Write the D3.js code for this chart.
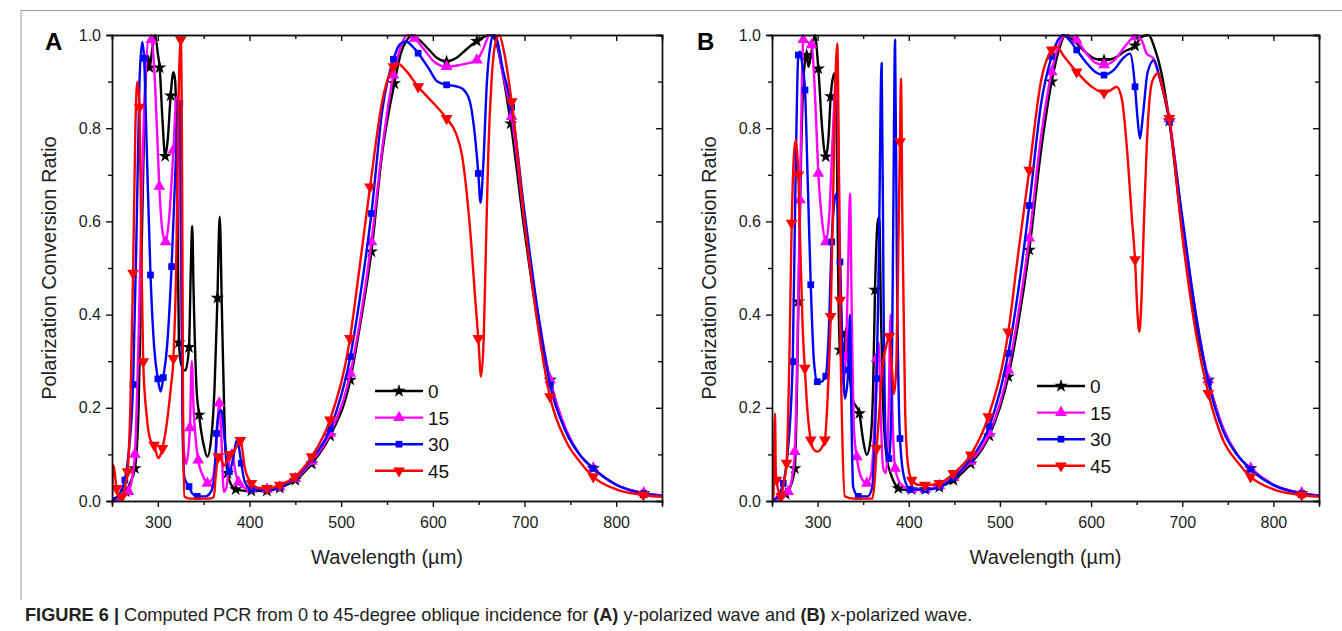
<!DOCTYPE html>
<html>
<head>
<meta charset="utf-8">
<script src="https://cdn.jsdelivr.net/npm/d3@7"></script>
<style>
  body { margin: 0; background: #fff; }
  svg { display: block; font-family: "Liberation Sans", Arial, sans-serif; }
  .tick text { font-size: 16px; fill: #222; }
  .domain, .tick line { stroke: #111; stroke-width: 1.4px; }
</style>
</head>
<body>
<div id="chart"></div>
<script>
// tick values and legend labels
var wavelengthTicks = [300, 400, 500, 600, 700, 800];
var wavelengthMinor = [250, 350, 450, 550, 650, 750, 850];
var ratioTicks = [0, 0.2, 0.4, 0.6, 0.8, 1.0];
var ratioMinor = [0.1, 0.3, 0.5, 0.7, 0.9];
var angleLabels = ["0", "15", "30", "45"];

// panel A (y-polarized) : [wavelength, PCR, marker?]
var a0 = [[250,0.005],[258,0.01],[265,0.02,1],[270,0.04],[275,0.07,1],[279,0.2],[282,0.5],[285,0.8],[287.5,0.93],[289.5,0.955],[291,0.93,1],[294,0.97],[297,1.0],[300,0.96],[302,0.93,1],[305,0.82],[308,0.74,1],[311,0.78],[314,0.87,1],[317,0.92],[319,0.9],[321,0.7],[323,0.34,1],[326,0.29],[330,0.28],[334,0.33,1],[336,0.5],[337.5,0.59],[339,0.45],[342,0.25],[345,0.185,1],[350,0.12],[354,0.095],[358,0.13],[362,0.25],[365,0.436,1],[367.5,0.61],[370,0.4],[373,0.15],[376,0.06,1],[380,0.035],[385,0.025,1],[395,0.022],[402,0.022,1],[419,0.022,1],[433,0.028,1],[450,0.045,1],[468,0.08,1],[488,0.14,1],[510,0.26,1],[520,0.37],[533,0.535,1],[545,0.75],[558,0.896,1],[565,0.96],[572,0.99],[578,1.0],[585,0.99],[595,0.97],[605,0.95],[615,0.943,1],[625,0.95],[637,0.97],[648,0.987,1],[655,0.995],[662,1.0],[668,0.99],[675,0.93],[685,0.81,1],[700,0.58],[715,0.38],[728,0.26,1],[745,0.15],[760,0.1],[775,0.07,1],[800,0.035],[830,0.017,1],[850,0.012]];
var a15 = [[250,0],[260,0.005],[268,0.02,1],[272,0.05],[275,0.1,1],[279,0.35],[283,0.7],[287,0.93],[290,0.99],[293,0.99,1],[296,0.93],[299,0.8],[301.6,0.675,1],[305,0.58],[308.5,0.556,1],[312,0.6],[317,0.753,1],[320,0.86],[322,0.87],[324,0.7],[326,0.4],[328,0.12],[331,0.08],[335,0.157,1],[337,0.3],[339,0.2],[344,0.088,1],[349,0.055],[354,0.038,1],[360,0.05],[364,0.12],[367,0.21,1],[369,0.15],[372,0.02],[375,0.03],[378,0.09],[381,0.11],[384,0.07],[388,0.04,1],[395,0.028],[402,0.025,1],[419,0.025,1],[433,0.03,1],[450,0.048,1],[468,0.085,1],[488,0.145,1],[510,0.274,1],[520,0.38],[533,0.556,1],[545,0.76],[557,0.914,1],[565,0.975],[572,1.0],[580,0.993,1],[590,0.97],[603,0.94],[615,0.932,1],[628,0.935],[640,0.94],[648,0.946,1],[655,0.97],[662,1.0],[668,1.0],[675,0.93],[686,0.825,1],[700,0.6],[715,0.4],[728,0.26,1],[745,0.155],[760,0.1],[775,0.07,1],[800,0.035],[830,0.017,1],[850,0.012]];
var a30 = [[250,0],[258,0.015],[264,0.045,1],[268,0.1],[273,0.25,1],[277,0.6],[280,0.9],[283,0.985],[285,0.95,1],[288,0.75],[292,0.485,1],[296,0.33],[300,0.262,1],[303,0.235],[306,0.265,1],[310,0.33],[315,0.503,1],[319,0.7],[322,0.84],[324,0.853,1],[325.5,0.6],[327,0.15],[329,0.05],[334,0.031,1],[338,0.015],[343,0.01,1],[352,0.01],[358,0.02],[362,0.06],[364,0.145,1],[367,0.19],[369.6,0.195],[372,0.15],[375,0.09],[378,0.063,1],[382,0.09],[386,0.13],[388,0.12],[391,0.081,1],[395,0.04],[402,0.025,1],[419,0.024,1],[433,0.03,1],[450,0.05,1],[468,0.09,1],[488,0.155,1],[510,0.31,1],[520,0.43],[533,0.617,1],[545,0.84],[557,0.948,1],[564,0.98],[570.7,0.986],[578,0.975],[584,0.961,1],[595,0.93],[605,0.9],[615,0.893,1],[625,0.89],[632,0.885],[640,0.86],[645,0.8],[649.6,0.703,1],[652,0.64],[655,0.72],[659,0.9],[663,0.98],[666,1.0],[670,0.99],[676,0.93],[686,0.845,1],[700,0.62],[715,0.4],[728,0.249,1],[745,0.15],[760,0.1],[775,0.07,1],[800,0.035],[830,0.016,1],[850,0.011]];
var a45 = [[250,0],[251.5,0.077],[253,0.06],[255,0.027,1],[258,0.005],[261,0.01,1],[264,0.03],[267,0.063,1],[270,0.2],[273,0.489,1],[275.5,0.8],[277.6,0.9],[280,0.845,1],[282,0.55],[284,0.299,1],[288,0.18],[292,0.13],[296,0.12,1],[300.5,0.092],[305,0.113,1],[310,0.17],[314,0.24],[317,0.306,1],[320,0.5],[322.5,0.85],[325,0.99,1],[326.5,0.7],[327.5,0.2],[329,0.01],[335,0.005],[345,0.005],[355,0.005],[361,0.008],[363,0.05],[366,0.095,1],[369,0.09],[372,0.075],[375,0.085],[378.7,0.1,1],[384,0.11],[390,0.13,1],[395,0.07],[402,0.038,1],[410,0.028],[419,0.027,1],[433,0.034,1],[449.6,0.052,1],[467.8,0.095,1],[487.8,0.174,1],[509.6,0.349,1],[520,0.5],[531.5,0.674,1],[545,0.86],[557,0.932,1],[562,0.939],[570,0.925],[584,0.889,1],[600,0.855],[615,0.821,1],[625,0.79],[632,0.74],[637,0.66],[642,0.55],[646,0.44],[649.6,0.349,1],[652.6,0.267],[655.5,0.35],[658,0.55],[660.5,0.746],[664,0.9],[668,0.98],[672.5,1.0],[677,0.97],[686,0.857,1],[700,0.6],[715,0.37],[727.8,0.224,1],[745,0.13],[760,0.085],[775,0.052,1],[800,0.025],[829.6,0.013,1],[850,0.009]];

// panel B (x-polarized)
var b0 = [[250,0],[258,0.005],[265,0.015,1],[270,0.03],[275,0.07,1],[277,0.2],[279,0.428,1],[282,0.75],[285,0.92],[288,0.957,1],[290,0.932],[293,0.96],[297,1.0],[300.8,0.928,1],[305,0.8],[309,0.739,1],[312,0.78],[314.4,0.868,1],[317,0.91],[319,0.918],[321,0.8],[322.5,0.5],[324.6,0.324,1],[328,0.3],[331,0.36,1],[334,0.3],[338,0.22],[345.8,0.188,1],[350,0.13],[353.9,0.099],[358,0.13],[361,0.25],[363,0.453,1],[366,0.6],[367.7,0.61],[369.5,0.4],[372,0.2],[376,0.09],[380,0.06],[384,0.04],[388.5,0.027,1],[395,0.024],[403,0.025,1],[418,0.025,1],[433.5,0.03,1],[449,0.045,1],[468,0.08,1],[488.4,0.14,1],[509.2,0.267,1],[520,0.38],[532.2,0.539,1],[545,0.75],[556.8,0.9,1],[565,0.97],[572,1.0],[580,0.99],[590,0.97],[603,0.95],[614.2,0.946,1],[625,0.95],[637,0.965],[648.2,0.977,1],[655,0.995],[663,1.0],[670,0.97],[677,0.92],[685.8,0.816,1],[700,0.58],[715,0.38],[728.6,0.26,1],[745,0.155],[760,0.1],[775,0.07,1],[800,0.035],[831,0.017,1],[850,0.012]];
var b15 = [[250,0],[260,0.005],[267.7,0.02,1],[272,0.05],[275,0.106,1],[278,0.35],[280.7,0.646,1],[283,0.92],[284.3,0.99,1],[289,0.985],[293.5,0.979,1],[297,0.88],[300.8,0.703,1],[305,0.6],[309,0.556,1],[313,0.62],[317,0.8],[320,0.9],[322,0.85],[324,0.6],[326,0.35],[328,0.25],[331,0.31,1],[333.5,0.5],[335.6,0.66],[337.5,0.4],[340,0.15],[343,0.095,1],[348,0.05],[354,0.038,1],[359,0.06],[362,0.15],[364.8,0.306,1],[367,0.34],[369,0.2],[372,0.07],[375,0.06],[378,0.2],[380,0.4],[382,0.2],[385,0.07,1],[392,0.035],[403,0.025,1],[418,0.025,1],[433.5,0.033,1],[449,0.05,1],[468,0.085,1],[488.4,0.145,1],[509.2,0.281,1],[520,0.4],[532.2,0.564,1],[545,0.78],[556.8,0.921,1],[565,0.98],[572,1.0],[584.2,0.989,1],[595,0.96],[605,0.94],[614.2,0.936,1],[625,0.945],[637,0.975],[648.2,0.996,1],[655,0.99],[661,0.96],[668,0.95],[675,0.91],[685.8,0.82,1],[700,0.6],[715,0.4],[728.6,0.26,1],[745,0.155],[760,0.1],[775,0.07,1],[800,0.035],[831,0.017,1],[850,0.012]];
var b30 = [[250,0],[256,0.01],[262.4,0.038,1],[267,0.1],[272.7,0.299,1],[275.5,0.65],[278.9,0.957,1],[280.7,0.964],[283,0.94],[286.2,0.882,1],[289,0.7],[292.5,0.464,1],[296,0.3],[299.7,0.256,1],[303,0.255],[309,0.268,1],[312,0.35],[315.5,0.556,1],[319,0.65],[321,0.66],[324.6,0.513,1],[327,0.35],[330,0.22],[333.7,0.281,1],[335.5,0.4],[337,0.2],[339,0.03],[344.7,0.01,1],[355,0.01],[360,0.03],[362,0.1],[364.8,0.263,1],[367,0.5],[370.3,0.94],[372.5,0.4],[375,0.12],[378.3,0.091,1],[381,0.2],[383,0.6],[385,0.99],[387,0.5],[390.4,0.134,1],[395,0.05],[401.6,0.025,1],[418,0.024,1],[433.5,0.03,1],[449,0.05,1],[468,0.09,1],[488.4,0.16,1],[509.2,0.317,1],[520,0.45],[532.2,0.634,1],[545,0.85],[556.8,0.954,1],[564,0.99],[569.5,1.0],[576,0.99],[584.2,0.968,1],[595,0.94],[605,0.92],[614.2,0.914,1],[625,0.925],[635,0.95],[642.7,0.96],[648.2,0.889,1],[651,0.82],[653.6,0.778],[657,0.83],[662,0.92],[669,0.946],[675,0.91],[685.8,0.814,1],[700,0.61],[715,0.4],[728.6,0.255,1],[745,0.15],[760,0.1],[775,0.068,1],[800,0.034],[831,0.016,1],[850,0.011]];
var b45 = [[250,0],[251.5,0.01],[253.3,0.188],[254.2,0.06],[255,0.045,1],[258,0.015],[260,0.01,1],[263,0.04],[266,0.081,1],[269,0.3],[271.6,0.596,1],[274,0.74],[276,0.775],[278.9,0.7,1],[281,0.55],[283.5,0.38],[286,0.285,1],[289,0.19],[292.5,0.131,1],[296,0.11],[299.7,0.106],[304,0.113],[308,0.131,1],[311,0.22],[314.4,0.396,1],[318,0.75],[320,0.93],[321.6,0.982],[323,0.8],[324.6,0.431,1],[327,0.15],[330,0.01],[340,0.005],[350,0.005],[360,0.005],[362.5,0.04],[364.8,0.113,1],[368,0.2],[372,0.3],[375,0.33],[378.7,0.353,1],[381,0.3],[384,0.23],[386.5,0.3],[389,0.6],[390.4,0.771,1],[391.5,0.907],[393,0.6],[396,0.2],[399,0.08],[403.2,0.045,1],[410,0.035],[417.8,0.034,1],[433.5,0.038,1],[448.9,0.059,1],[468,0.099,1],[487.3,0.181,1],[509.2,0.363,1],[520,0.53],[532.2,0.71,1],[545,0.9],[556.8,0.968,1],[562.3,0.975],[570,0.955],[584.2,0.921,1],[600,0.89],[614.2,0.876,1],[622,0.882],[628,0.889],[634,0.86],[640,0.74],[645,0.6],[648.2,0.518,1],[651,0.4],[652.9,0.363],[655,0.42],[658,0.6],[662,0.8],[667,0.9],[673.7,0.918],[679,0.88],[685.8,0.821,1],[700,0.57],[715,0.36],[728.6,0.231,1],[745,0.13],[760,0.085],[775,0.052,1],[800,0.025],[831,0.013,1],[850,0.009]];

function init() {

    var w = 1342;
    var h = 631;

    var colors = ["#000000", "#ff00ff", "#0000ff", "#ff0000"];
    var shapes = [d3.symbolStar, d3.symbolTriangle, d3.symbolSquare, d3.symbolTriangle];
    var sizes = [55, 60, 45, 60];
    var rotations = [0, 0, 0, 180];

    var svg = d3.select("#chart")
        .append("svg")
        .attr("width", w)
        .attr("height", h);

    //thin frame round the figure
    svg.append("path")
        .attr("d", "M21,600 V10.5 H1342")
        .attr("fill", "none")
        .attr("stroke", "#999")
        .attr("stroke-width", 1);

    var panels = [
        { id: "A", left: 112, right: 662, letterX: 45, series: [a0, a15, a30, a45], legendX: 375, legendY: 391 },
        { id: "B", left: 772, right: 1319, letterX: 697, series: [b0, b15, b30, b45], legendX: 1037, legendY: 386 }
    ];
    var top = 35, bottom = 501;

    panels.forEach(function (p) {

        var xScale = d3.scaleLinear().domain([250, 850]).range([p.left, p.right]);
        var yScale = d3.scaleLinear().domain([0, 1]).range([bottom, top]);

        var g = svg.append("g");

        //clip so curves stay in the plot box
        g.append("clipPath")
            .attr("id", "clip" + p.id)
            .append("rect")
            .attr("x", p.left).attr("y", top - 1)
            .attr("width", p.right - p.left).attr("height", bottom - top + 1);

        var line = d3.line()
            .x(function (d) { return xScale(d[0]); })
            .y(function (d) { return yScale(d[1]); })
            .curve(d3.curveMonotoneX);

        var plot = g.append("g").attr("clip-path", "url(#clip" + p.id + ")");

        p.series.forEach(function (data, i) {
            plot.append("path")
                .datum(data)
                .attr("fill", "none")
                .attr("stroke", colors[i])
                .attr("stroke-width", 2.4)
                .attr("stroke-linejoin", "round")
                .attr("d", line);

            plot.selectAll(".m" + i)
                .data(data.filter(function (d) { return d[2]; }))
                .enter()
                .append("path")
                .attr("class", "m" + i)
                .attr("d", d3.symbol().type(shapes[i]).size(sizes[i]))
                .attr("fill", colors[i])
                .attr("transform", function (d) {
                    return "translate(" + xScale(d[0]) + "," + yScale(d[1]) + ") rotate(" + rotations[i] + ")";
                });
        });

        //bottom axis with labels, ticks outward
        g.append("g")
            .attr("transform", "translate(0," + bottom + ")")
            .call(d3.axisBottom(xScale).tickValues(wavelengthTicks).tickSize(6).tickPadding(10).tickFormat(d3.format("d")));
        g.append("g")
            .attr("transform", "translate(0," + bottom + ")")
            .call(d3.axisBottom(xScale).tickValues(wavelengthMinor).tickSize(4).tickFormat(""));

        //top axis, ticks inward
        g.append("g")
            .attr("transform", "translate(0," + top + ")")
            .call(d3.axisBottom(xScale).tickValues(wavelengthTicks).tickSizeOuter(0).tickSize(6).tickFormat(""));
        g.append("g")
            .attr("transform", "translate(0," + top + ")")
            .call(d3.axisBottom(xScale).tickValues(wavelengthMinor).tickSizeOuter(0).tickSize(4).tickFormat(""));

        //left axis
        g.append("g")
            .attr("transform", "translate(" + p.left + ",0)")
            .call(d3.axisLeft(yScale).tickValues(ratioTicks).tickSize(6).tickPadding(5).tickFormat(d3.format(".1f")));
        g.append("g")
            .attr("transform", "translate(" + p.left + ",0)")
            .call(d3.axisLeft(yScale).tickValues(ratioMinor).tickSize(4).tickFormat(""));

        //right axis, ticks inward
        g.append("g")
            .attr("transform", "translate(" + p.right + ",0)")
            .call(d3.axisLeft(yScale).tickValues(ratioTicks).tickSizeOuter(0).tickSize(6).tickFormat(""));
        g.append("g")
            .attr("transform", "translate(" + p.right + ",0)")
            .call(d3.axisLeft(yScale).tickValues(ratioMinor).tickSizeOuter(0).tickSize(4).tickFormat(""));

        //axis titles
        g.append("text")
            .attr("x", (p.left + p.right) / 2)
            .attr("y", 564)
            .attr("text-anchor", "middle")
            .attr("font-size", 20)
            .attr("fill", "#222")
            .text("Wavelength (\u00b5m)");

        g.append("text")
            .attr("transform", "translate(" + (p.left - 56) + "," + ((top + bottom) / 2) + ") rotate(-90)")
            .attr("text-anchor", "middle")
            .attr("font-size", 20)
            .attr("fill", "#222")
            .text("Polarization Conversion Ratio");

        //panel letter
        g.append("text")
            .attr("x", p.letterX)
            .attr("y", 50)
            .attr("font-size", 24)
            .attr("font-weight", "bold")
            .text(p.id);

        //legend
        angleLabels.forEach(function (lab, i) {
            var ly = p.legendY + i * 26.6;
            g.append("line")
                .attr("x1", p.legendX).attr("x2", p.legendX + 48)
                .attr("y1", ly).attr("y2", ly)
                .attr("stroke", colors[i])
                .attr("stroke-width", 2.4);
            g.append("path")
                .attr("d", d3.symbol().type(shapes[i]).size(sizes[i]))
                .attr("fill", colors[i])
                .attr("transform", "translate(" + (p.legendX + 24) + "," + ly + ") rotate(" + rotations[i] + ")");
            g.append("text")
                .attr("x", p.legendX + 53)
                .attr("y", ly + 7)
                .attr("font-size", 19)
                .attr("fill", "#111")
                .text(lab);
        });
    });

    //figure caption
    var cap = svg.append("text")
        .attr("x", 25)
        .attr("y", 621)
        .attr("font-size", 18.2)
        .attr("fill", "#222");
    cap.append("tspan").attr("font-weight", "bold").text("FIGURE 6 | ");
    cap.append("tspan").text("Computed PCR from 0 to 45-degree oblique incidence for ");
    cap.append("tspan").attr("font-weight", "bold").text("(A)");
    cap.append("tspan").text(" y-polarized wave and ");
    cap.append("tspan").attr("font-weight", "bold").text("(B)");
    cap.append("tspan").text(" x-polarized wave.");
}

window.onload = init;
</script>
</body>
</html>
